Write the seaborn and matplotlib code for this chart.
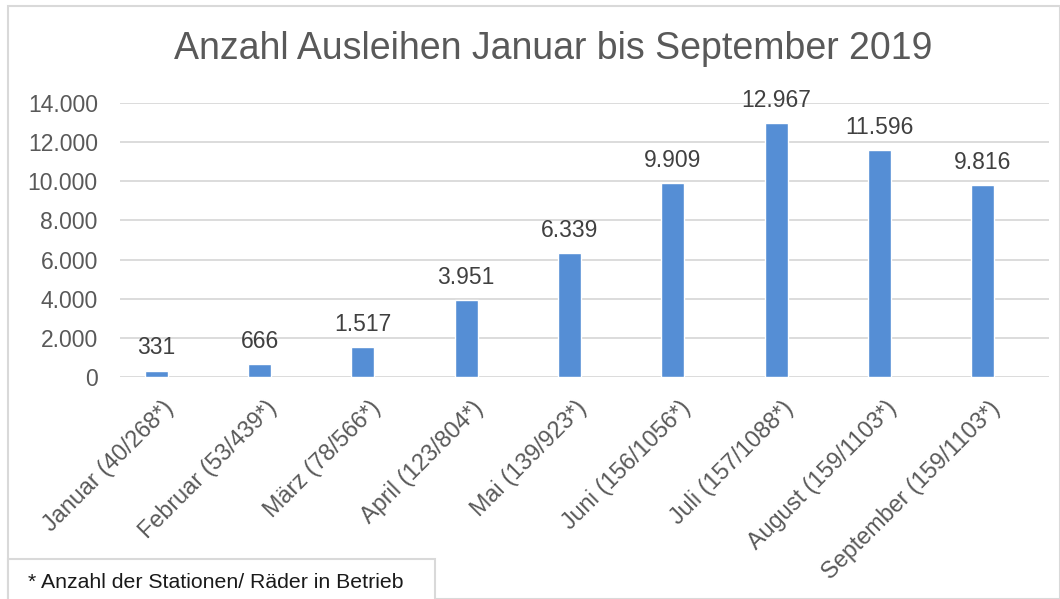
import matplotlib
matplotlib.use("Agg")
import matplotlib.pyplot as plt
import matplotlib.transforms as mtransforms
from matplotlib.patches import Rectangle
from matplotlib.ticker import FuncFormatter
import pandas as pd
import seaborn as sns

sns.set_theme(style="white")
plt.rcParams['font.family'] = ['Liberation Sans', 'DejaVu Sans']

monate = ["Januar (40/268*)", "Februar (53/439*)", "März (78/566*)",
          "April (123/804*)", "Mai (139/923*)", "Juni (156/1056*)",
          "Juli (157/1088*)", "August (159/1103*)", "September (159/1103*)"]
ausleihen = [331, 666, 1517, 3951, 6339, 9909, 12967, 11596, 9816]
yticks = [0, 2000, 4000, 6000, 8000, 10000, 12000, 14000]

df = pd.DataFrame({"monat": monate, "ausleihen": ausleihen})


def de(v):
    return f"{int(v):,}".replace(",", ".")


W, H = 1060, 599
fig = plt.figure(figsize=(W / 100, H / 100), dpi=100)
ax = fig.add_axes([120 / W, 1 - 377 / H, (1049 - 120) / W, (377 - 103) / H])

sns.barplot(data=df, x="monat", y="ausleihen", color="#558ed5", saturation=1,
            width=0.22, ax=ax)

ax.set_ylim(0, 14000)
ax.set_xlim(-0.35, len(monate) - 0.36)
ax.set_yticks(yticks)
ax.yaxis.set_major_formatter(FuncFormatter(lambda v, p: de(v)))
ax.grid(axis="y", color="#d9d9d9", linewidth=1.3)
ax.set_axisbelow(True)
for s in ax.spines.values():
    s.set_visible(False)
ax.set_xlabel("")
ax.set_ylabel("")
ax.tick_params(axis="y", length=0, pad=16, labelsize=16.5, labelcolor="#595959")
ax.tick_params(axis="x", length=0, pad=20, labelsize=16.8, labelcolor="#595959")

offset = mtransforms.ScaledTranslation(14 / 100, 0, fig.dpi_scale_trans)
for lbl in ax.get_xticklabels():
    lbl.set_rotation(45)
    lbl.set_ha("right")
    lbl.set_va("center")
    lbl.set_rotation_mode("anchor")
    lbl.set_transform(lbl.get_transform() + offset)

ax.bar_label(ax.containers[0], labels=[de(v) for v in ausleihen], padding=8,
             fontsize=16.5, color="#404040")

fig.text(553 / W, 1 - 49 / H, "Anzahl Ausleihen Januar bis September 2019",
         ha="center", va="center", fontsize=27, color="#595959")

# Rahmen
fig.patches.append(Rectangle((8 / W, 0), (W - 8) / W, 1 - 6 / H,
                             transform=fig.transFigure, fill=False,
                             edgecolor="#d9d9d9", linewidth=1.5))
fig.patches.append(Rectangle((8 / W, -0.01), (435 - 8) / W, 0.01 + (H - 559) / H,
                             transform=fig.transFigure, facecolor="white",
                             edgecolor="#d9d9d9", linewidth=1.5))
fig.text(28 / W, 1 - 583 / H, "* Anzahl der Stationen/ Räder in Betrieb",
         ha="left", va="center", fontsize=15.3, color="#1a1a1a")

fig.savefig("out.png", dpi=100)
